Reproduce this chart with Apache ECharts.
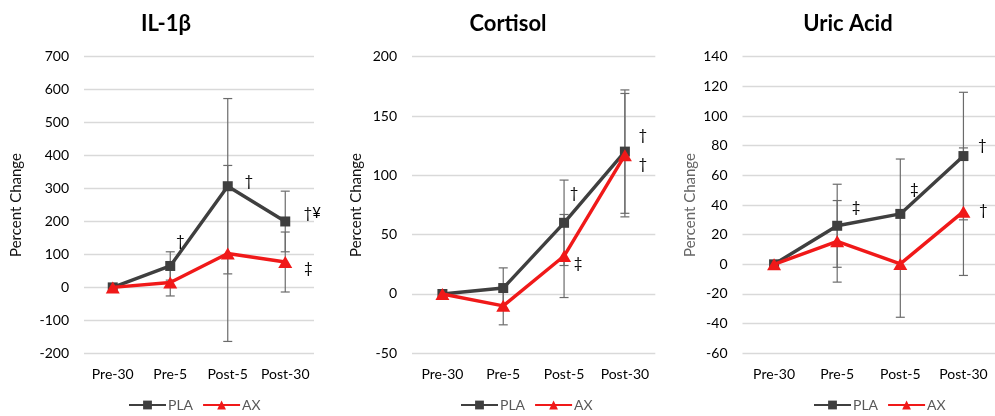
<!DOCTYPE html>
<html>
<head>
<meta charset="utf-8">
<script src="https://cdn.jsdelivr.net/npm/echarts@6/dist/echarts.min.js"></script>
<style>html,body{margin:0;padding:0;background:#fff}#c{width:995px;height:416px}</style>
</head>
<body>
<div id="c"></div>
<script>
const categories = ['Pre-30', 'Pre-5', 'Post-5', 'Post-30'];
const titles = ['IL-1\u03b2', 'Cortisol', 'Uric Acid'];

const ilPLA = [0, 65, 307, 200];
const ilPLAErr = [0, 43, 266, 92];
const ilAX = [0, 15, 103, 77];
const ilAXErr = [0, 41, 267, 91];
const ilPLAMarks = ['', '\u2020', '\u2020', '\u2020\u00a5'];
const ilAXMarks = ['', '', '', '\u2021'];

const coPLA = [0, 5, 60, 120];
const coPLAErr = [0, 17, 36, 52];
const coAX = [0, -10, 32, 117];
const coAXErr = [0, 16, 35, 52];
const coPLAMarks = ['', '', '\u2020', '\u2020'];
const coAXMarks = ['', '', '\u2021', '\u2020'];

const uaPLA = [0, 26, 34, 73];
const uaPLAErr = [0, 28, 37, 43];
const uaAX = [0, 15.5, 0.3, 35.5];
const uaAXErr = [0, 27.5, 36, 43];
const uaPLAMarks = ['', '\u2021', '\u2021', '\u2020'];
const uaAXMarks = ['', '', '', '\u2020'];

const yMin = [-200, -50, -60];
const yMax = [700, 200, 140];
const yStep = [100, 50, 20];

const FONT = 'Lato, "Open Sans", sans-serif';

// layout (styles only)
const grids = [
  {left: 84, width: 230, top: 56.7, bottom: 62.7},
  {left: 412, width: 243.3, top: 56.7, bottom: 62.7},
  {left: 742.5, width: 252.5, top: 56.7, bottom: 62.7}
];
const titleCenters = [161, 503, 843];
const nameGaps = [60, 48, 44.5];
const nameColors = ['#111', '#111', '#666'];
const legendLefts = [128, 460, 813];

const markOffsets = [
  {pla: [null, [10, -25], [21, -5], [27, -8]], ax: [null, null, null, [23, 6]]},
  {pla: [null, null, [10, -30], [18, -16]], ax: [null, null, [14, 7], [18, 9]]},
  {pla: [null, [19, -19], [14, -25], [19, -11]], ax: [null, null, null, [20, -2]]}
];

const panels = [
  {pla: ilPLA, plaErr: ilPLAErr, ax: ilAX, axErr: ilAXErr, plaMarks: ilPLAMarks, axMarks: ilAXMarks},
  {pla: coPLA, plaErr: coPLAErr, ax: coAX, axErr: coAXErr, plaMarks: coPLAMarks, axMarks: coAXMarks},
  {pla: uaPLA, plaErr: uaPLAErr, ax: uaAX, axErr: uaAXErr, plaMarks: uaPLAMarks, axMarks: uaAXMarks}
];

function errRender(params, api) {
  const x = api.value(0), y = api.value(1), e = api.value(2);
  if (!e) return null;
  const t = api.coord([x, y + e]);
  const b = api.coord([x, y - e]);
  const w = 4.5;
  const st = {stroke: '#6b6b6b', lineWidth: 1.2};
  return {type: 'group', children: [
    {type: 'line', shape: {x1: t[0], y1: t[1], x2: b[0], y2: b[1]}, style: st},
    {type: 'line', shape: {x1: t[0] - w, y1: t[1], x2: t[0] + w, y2: t[1]}, style: st},
    {type: 'line', shape: {x1: b[0] - w, y1: b[1], x2: b[0] + w, y2: b[1]}, style: st}
  ]};
}

function withMarks(vals, marks, offs) {
  return vals.map((v, i) => {
    if (!marks[i]) return v;
    return {value: v, label: {show: true, formatter: marks[i], position: 'inside',
      offset: offs[i], color: '#000', fontSize: 15, fontFamily: FONT, align: 'center', verticalAlign: 'middle'}};
  });
}

const option = {
  animation: false,
  backgroundColor: '#fff',
  title: titles.map((t, i) => ({
    text: t, left: titleCenters[i], top: 8, textAlign: 'center',
    textStyle: {fontSize: 22, fontWeight: 'bold', color: '#000', fontFamily: FONT}
  })),
  legend: [0, 1, 2].map(i => ({
    data: ['PLA', 'AX'], left: legendLefts[i], top: 395, padding: [3, 0, 0, 0],
    itemWidth: 37, itemHeight: 11, itemGap: 9,
    textStyle: {color: '#595959', fontSize: 14, fontFamily: FONT, padding: [0, 0, 0, -3]},
    selectedMode: false
  })),
  grid: grids.map(g => Object.assign({containLabel: false}, g)),
  xAxis: [0, 1, 2].map(i => ({
    type: 'category', gridIndex: i, data: categories, boundaryGap: true,
    axisLine: {show: false}, axisTick: {show: false},
    axisLabel: {interval: 0, color: '#000', fontSize: 14, fontFamily: FONT, margin: 14}
  })),
  yAxis: [0, 1, 2].map(i => ({
    type: 'value', gridIndex: i, min: yMin[i], max: yMax[i], interval: yStep[i],
    axisLine: {show: false}, axisTick: {show: false},
    axisLabel: {color: '#000', fontSize: 14, fontFamily: FONT, margin: 15},
    splitLine: {lineStyle: {color: '#d9d9d9', width: 1.3}},
    name: 'Percent Change', nameLocation: 'middle', nameGap: nameGaps[i], nameRotate: 90,
    nameTextStyle: {color: nameColors[i], fontSize: 15, fontFamily: FONT}
  })),
  series: []
};

panels.forEach((p, i) => {
  option.series.push({
    name: 'PLA err', type: 'custom', xAxisIndex: i, yAxisIndex: i, z: 1,
    renderItem: errRender, encode: {x: 0, y: 1},
    data: p.pla.map((v, k) => [k, v, p.plaErr[k]])
  });
  option.series.push({
    name: 'AX err', type: 'custom', xAxisIndex: i, yAxisIndex: i, z: 1,
    renderItem: errRender, encode: {x: 0, y: 1},
    data: p.ax.map((v, k) => [k, v, p.axErr[k]])
  });
  option.series.push({
    name: 'PLA', type: 'line', xAxisIndex: i, yAxisIndex: i, z: 3,
    symbol: 'rect', symbolSize: 10, showAllSymbol: true,
    lineStyle: {color: '#3f3f3f', width: 3.4},
    itemStyle: {color: '#3f3f3f', borderWidth: 0},
    data: withMarks(p.pla, p.plaMarks, markOffsets[i].pla)
  });
  option.series.push({
    name: 'AX', type: 'line', xAxisIndex: i, yAxisIndex: i, z: 4,
    symbol: 'triangle', symbolSize: [14, 12], showAllSymbol: true,
    lineStyle: {color: '#f01919', width: 3.4},
    itemStyle: {color: '#f01919', borderWidth: 0},
    data: withMarks(p.ax, p.axMarks, markOffsets[i].ax)
  });
});

const chart = echarts.init(document.getElementById('c'), null, {renderer: 'canvas'});
chart.setOption(option);
</script>
</body>
</html>
